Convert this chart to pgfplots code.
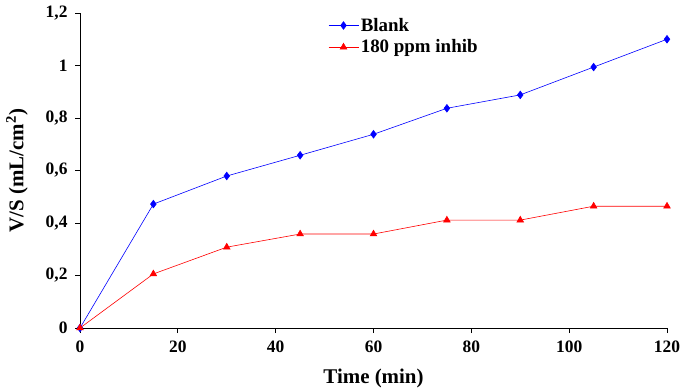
\documentclass[border=0pt]{standalone}
\usepackage{pgfplots}
\pgfplotsset{compat=1.18}
\usepackage{fontspec}
\setmainfont{Liberation Serif}
\begin{document}
\begin{tikzpicture}[x=1bp,y=1bp]
\useasboundingbox (0,0) rectangle (682,390);
\begin{axis}[
  at={(80bp,62bp)}, anchor=origin,
  scale only axis,
  width=587bp, height=315bp,
  xmin=0, xmax=120, ymin=0, ymax=1.2,
  axis x line=bottom, axis y line=left,
  axis line style={-, black, line width=0.8pt},
  xtick={0,20,...,120},
  xticklabels={0,20,40,60,80,100,120},
  ytick={0,0.2,...,1.2},
  yticklabels={0,{0,2},{0,4},{0,6},{0,8},1,{1,2}},
  tick align=outside,
  major tick length=5bp,
  tick style={black, line width=0.8pt},
  ticklabel style={font=\fontsize{17.5}{17.5}\selectfont\bfseries},
  yticklabel style={xshift=-4bp},
  xticklabel style={yshift=-4bp},
  xlabel={Time (min)},
  ylabel={V/S (mL/cm\textsuperscript{2})},
  label style={font=\fontsize{21}{21}\selectfont\bfseries},
  xlabel style={at={(axis description cs:0.5,0)}, anchor=base, yshift=-55bp},
  ylabel style={at={(axis description cs:0,0.5)}, anchor=center, yshift=63bp},
  clip=false,
  legend style={at={(248bp,312bp)}, anchor=north west, draw=none, fill=none,
    font=\fontsize{19}{19}\selectfont\bfseries, row sep=3bp, inner sep=0pt},
  legend cell align=left,
  legend image code/.code={
    \draw[mark repeat=2,mark phase=2] plot coordinates {(0bp,0bp) (15bp,0bp) (30bp,0bp)};
  },
]
\addplot[blue, line width=0.6pt, mark=diamond*, mark size=3.8bp, mark options={fill=blue}]
coordinates {(0,0) (15,0.472) (30,0.579) (45,0.658) (60,0.738) (75,0.837) (90,0.888) (105,0.994) (120,1.100)};
\addlegendentry{Blank}
\addplot[red, line width=0.6pt, mark=triangle*, mark size=3.8bp, mark options={fill=red}]
coordinates {(0,0) (15,0.206) (30,0.308) (45,0.358) (60,0.358) (75,0.411) (90,0.411) (105,0.464) (120,0.464)};
\addlegendentry{180 ppm inhib}
\end{axis}
\end{tikzpicture}
\end{document}
